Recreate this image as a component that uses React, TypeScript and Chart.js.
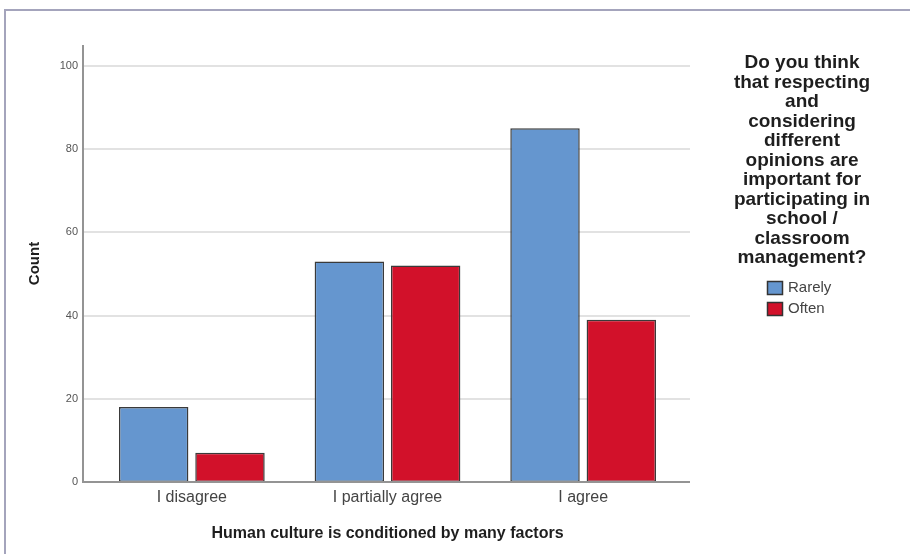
import React, { useEffect, useRef } from "react";
import { Chart, registerables } from "chart.js";

Chart.register(...registerables);

const categories = ["I disagree", "I partially agree", "I agree"];
const rarelyValues = [18, 53, 85];
const oftenValues = [7, 52, 39];
const seriesNames = ["Rarely", "Often"];
const yTicks = [0, 20, 40, 60, 80, 100];
const yMax = 105;
const xTitle = "Human culture is conditioned by many factors";
const yTitle = "Count";
const legendTitleLines = [
  "Do you think",
  "that respecting",
  "and",
  "considering",
  "different",
  "opinions are",
  "important for",
  "participating in",
  "school /",
  "classroom",
  "management?",
];

const FONT = "'Liberation Sans', Arial, sans-serif";
const BLUE = "#6596cf";
const RED = "#d2112a";

const axesPlugin = {
  id: "spssAxes",
  beforeDatasetsDraw(chart: any) {
    const { ctx, chartArea, scales } = chart;
    const y = scales.y;
    const x0 = chartArea.left - 11;
    const x1 = chartArea.right + 9;
    ctx.save();
    ctx.strokeStyle = "#e2e2e2";
    ctx.lineWidth = 2;
    yTicks.forEach((v) => {
      if (v === 0) return;
      const py = Math.round(y.getPixelForValue(v));
      ctx.beginPath();
      ctx.moveTo(x0, py);
      ctx.lineTo(x1, py);
      ctx.stroke();
    });
    ctx.restore();
  },
  afterDatasetsDraw(chart: any) {
    const { ctx, chartArea } = chart;
    const x0 = chartArea.left - 11;
    const x1 = chartArea.right + 9;
    ctx.save();
    ctx.strokeStyle = "#949494";
    ctx.lineWidth = 2;
    ctx.beginPath();
    ctx.moveTo(x0, chartArea.top);
    ctx.lineTo(x0, chartArea.bottom);
    ctx.lineTo(x1, chartArea.bottom);
    ctx.stroke();
    ctx.restore();
  },
};

const legendPlugin = {
  id: "spssLegend",
  afterDraw(chart: any) {
    const { ctx } = chart;
    const cx = 802;
    ctx.save();
    ctx.fillStyle = "#1e1e1e";
    ctx.font = `bold 19px ${FONT}`;
    ctx.textAlign = "center";
    ctx.textBaseline = "middle";
    legendTitleLines.forEach((line, i) => {
      ctx.fillText(line, cx, 63 + i * 19.5);
    });
    chart.data.datasets.forEach((ds: any, i: number) => {
      const by = 281 + i * 21;
      ctx.fillStyle = ds.backgroundColor;
      ctx.fillRect(767, by, 15, 13);
      ctx.strokeStyle = "#333";
      ctx.lineWidth = 1.5;
      ctx.strokeRect(767.5, by + 0.5, 15, 13);
      ctx.fillStyle = "#444";
      ctx.font = `15px ${FONT}`;
      ctx.textAlign = "left";
      ctx.fillText(ds.label, 788, by + 7);
    });
    ctx.restore();
  },
};

export default function App() {
  const ref = useRef<HTMLCanvasElement>(null);

  useEffect(() => {
    if (!ref.current) return;
    const chart = new Chart(ref.current, {
      type: "bar",
      data: {
        labels: categories,
        datasets: [
          {
            label: seriesNames[0],
            data: rarelyValues,
            backgroundColor: BLUE,
            borderColor: "#3a3a3a",
            borderWidth: 1.5,
            borderSkipped: false,
          },
          {
            label: seriesNames[1],
            data: oftenValues,
            backgroundColor: RED,
            borderColor: "#3a3a3a",
            borderWidth: 1.5,
            borderSkipped: false,
          },
        ],
      },
      options: {
        responsive: false,
        animation: false,
        devicePixelRatio: 1,
        layout: { padding: { left: 0, right: 229, top: 45, bottom: 0 } },
        datasets: {
          bar: { barPercentage: 0.91, categoryPercentage: 0.78 },
        },
        plugins: {
          legend: { display: false },
          tooltip: { enabled: false },
          title: { display: false },
        },
        scales: {
          x: {
            offset: true,
            grid: { display: false, drawTicks: false },
            border: { display: false },
            ticks: {
              color: "#444",
              font: { family: FONT, size: 16 },
              padding: 6,
              maxRotation: 0,
            },
            title: {
              display: true,
              text: xTitle,
              color: "#1e1e1e",
              font: { family: FONT, size: 16, weight: "bold" },
              padding: { top: 0, bottom: 11 },
            },
            afterFit(scale: any) {
              scale.height = 72;
            },
          },
          y: {
            min: 0,
            max: yMax,
            grid: { display: false, drawTicks: false },
            border: { display: false },
            afterBuildTicks(scale: any) {
              scale.ticks = yTicks.map((v) => ({ value: v }));
            },
            ticks: {
              color: "#555",
              font: { family: FONT, size: 11 },
              padding: 16,
            },
            title: {
              display: true,
              text: yTitle,
              color: "#1e1e1e",
              font: { family: FONT, size: 15, weight: "bold" },
              padding: { top: 26, bottom: 0 },
            },
            afterFit(scale: any) {
              scale.width = 94;
            },
          },
        },
      },
      plugins: [axesPlugin, legendPlugin],
    });
    return () => chart.destroy();
  }, []);

  return (
    <div style={{ position: "absolute", left: 0, top: 0, width: 910, height: 554, background: "#fff" }}>
      <div
        style={{
          position: "absolute",
          left: 4,
          top: 9,
          right: 0,
          bottom: 0,
          borderTop: "2px solid #a4a4bc",
          borderLeft: "2px solid #a4a4bc",
        }}
      />
      <canvas ref={ref} width={910} height={554} style={{ position: "absolute", left: 0, top: 0 }} />
    </div>
  );
}
